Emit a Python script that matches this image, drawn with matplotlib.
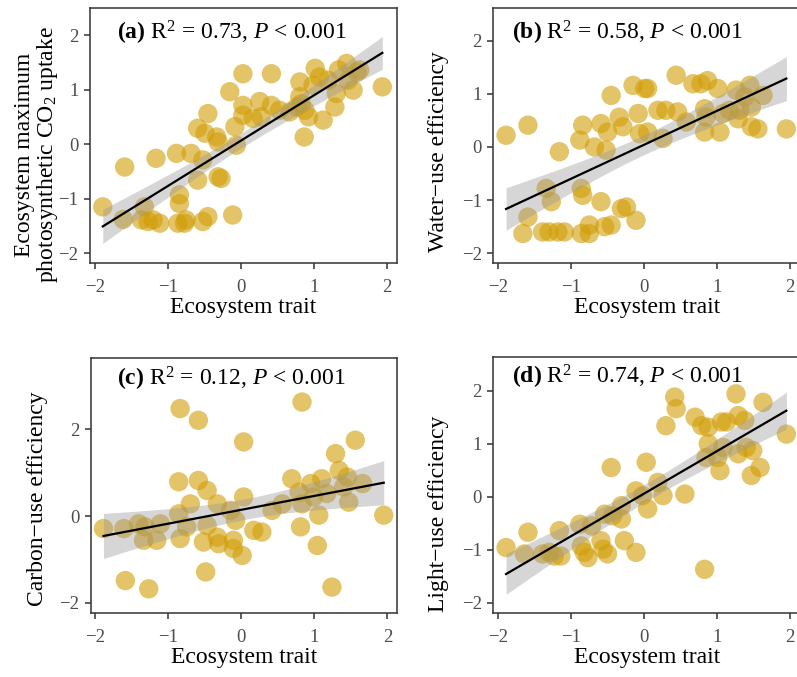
import numpy as np
import matplotlib
matplotlib.use('Agg')
import matplotlib.pyplot as plt

# values (standardised units)
a_x = [-1.89, -1.61, -1.59, -1.32, -1.36, -1.27, -1.16, -1.11, -1.20, -0.88, -0.84, -0.84, -0.86, -0.75, -0.77,
       -0.68, -0.52, -0.59, -0.52, -0.45, -0.59, -0.45, -0.49, -0.33, -0.31, -0.31, -0.27, -0.15, -0.08, -0.06,
       -0.11, 0.03, 0.03, 0.03, 0.17, 0.26, 0.28, 0.42, 0.42, 0.53, 0.67, 0.81, 0.81, 0.83, 0.88, 0.87, 1.02,
       0.99, 1.08, 1.13, 1.29, 1.20, 1.34, 1.31, 1.45, 1.54, 1.59, 1.63, 1.47, 1.94, 0.93, 0.77]
a_y = [-1.15, -1.38, -0.42, -1.15, -1.39, -1.42, -0.26, -1.45, -1.39, -0.17, -0.93, -1.09, -1.45, -1.39, -1.45,
       -0.17, -0.29, -0.66, -1.42, -1.33, 0.29, 0.56, 0.20, 0.13, 0.04, -0.60, -0.63, 0.96, 0.32, -0.02,
       -1.30, 1.29, 0.71, 0.53, 0.47, 0.78, 0.50, 1.29, 0.71, 0.62, 0.59, 1.14, 0.87, 0.74, 0.62, 0.13, 1.39,
       1.08, 1.23, 0.44, 0.68, 1.17, 1.36, 0.93, 1.48, 0.99, 1.32, 1.36, 1.17, 1.05, 0.50, 0.68]

b_x = [-1.89, -1.59, -1.16, -1.34, -1.27, -1.59, -1.66, -1.39, -1.30, -1.18, -1.09, -0.84, -0.88, -0.86, -0.84,
       -0.86, -0.75, -0.75, -0.68, -0.59, -0.52, -0.50, -0.59, -0.54, -0.45, -0.45, -0.34, -0.29, -0.31, -0.24,
       -0.11, -0.15, -0.08, -0.06, 0.01, 0.05, 0.05, 0.19, 0.26, 0.30, 0.44, 0.46, 0.58, 0.67, 0.78, 0.87, 0.83,
       0.85, 0.83, 1.01, 1.04, 1.08, 1.17, 1.26, 1.29, 1.31, 1.38, 1.45, 1.47, 1.47, 1.56, 1.63, 1.95]
b_y = [0.22, 0.41, -0.09, -0.78, -1.03, -1.32, -1.63, -1.60, -1.60, -1.60, -1.60, 0.41, 0.13, -0.78, -0.91,
       -1.63, -1.47, -1.63, 0.00, 0.44, -0.06, 0.28, -1.03, -1.50, -1.47, 0.97, 0.56, 0.38, -1.16, -1.13,
       -1.38, 1.16, 0.63, 0.25, 1.10, 1.10, 0.28, 0.69, 0.16, 0.69, 1.35, 0.66, 0.47, 1.19, 1.19, 1.25, 0.72,
       0.56, 0.28, 1.10, 0.28, 0.63, 0.69, 1.07, 0.53, 0.69, 0.94, 1.16, 0.75, 0.38, 0.34, 0.97, 0.34]

c_x = [-1.89, -1.61, -1.41, -1.32, -1.34, -1.16, -1.11, -1.59, -1.27, -0.84, -0.59, -0.86, -0.86, -0.84, -0.75,
       -0.70, -0.59, -0.47, -0.52, -0.47, -0.49, -0.33, -0.33, -0.31, -0.15, -0.08, -0.11, -0.11, 0.01, 0.03,
       0.03, 0.17, 0.28, 0.42, 0.56, 0.69, 0.79, 0.81, 0.83, 0.83, 0.95, 0.99, 1.06, 1.04, 1.10, 1.17, 1.24,
       1.29, 1.34, 1.45, 1.47, 1.56, 1.66, 1.95, 1.40]
c_y = [-0.29, -0.29, -0.18, -0.25, -0.56, -0.56, -0.18, -1.49, -1.68, 2.48, 2.21, 0.79, 0.05, -0.52, -0.25,
       0.28, 0.82, 0.59, -0.60, -0.22, -1.29, 0.28, -0.49, -0.64, 0.13, -0.10, -0.56, -0.75, -0.91, 1.71,
       0.44, -0.33, -0.37, 0.13, 0.28, 0.86, 0.55, -0.25, 0.28, 2.63, 0.75, 0.44, 0.02, -0.68, 0.86, 0.52, -1.64,
       1.44, 1.05, 0.90, 0.32, 1.75, 0.75, 0.02, 0.67]

d_x = [-1.89, -1.59, -1.64, -1.39, -1.30, -1.16, -1.14, -1.23, -0.88, -0.86, -0.82, -0.77, -0.72, -0.59, -0.54,
       -0.50, -0.45, -0.43, -0.31, -0.31, -0.27, -0.11, -0.11, -0.02, 0.03, 0.05, 0.19, 0.26, 0.30, 0.42, 0.44,
       0.56, 0.70, 0.79, 0.88, 0.88, 0.85, 0.83, 1.04, 1.01, 1.06, 1.08, 1.13, 1.26, 1.29, 1.29, 1.38, 1.40,
       1.49, 1.47, 1.59, 1.63, 1.95, -0.56]
d_y = [-0.96, -0.67, -1.08, -1.08, -1.05, -0.64, -1.12, -1.12, -0.52, -0.93, -1.05, -1.15, -0.55, -0.83, -0.33,
       -1.08, 0.55, -0.36, -0.42, -0.17, -0.83, -1.05, 0.11, 0.02, 0.65, -0.23, 0.27, 0.02, 1.34, 1.88, 1.66,
       0.05, 1.50, 1.34, 1.31, 1.00, 0.74, -1.37, 0.49, 0.74, 1.41, 0.93, 1.41, 1.94, 1.53, 0.81, 1.44, 0.93,
       0.87, 0.40, 0.55, 1.78, 1.18, -0.99]

panel_tags = ['(a)', '(b)', '(c)', '(d)']
r2_values = ['0.73', '0.58', '0.12', '0.74']
y_titles = ['Ecosystem maximum\nphotosynthetic CO$_2$ uptake', 'Water\u2212use efficiency',
            'Carbon\u2212use efficiency', 'Light\u2212use efficiency']
x_title = 'Ecosystem trait'

plt.rcParams['font.family'] = 'Liberation Serif'
plt.rcParams['mathtext.fontset'] = 'custom'
plt.rcParams['mathtext.rm'] = 'Liberation Serif'
plt.rcParams['mathtext.it'] = 'Liberation Serif:italic'
plt.rcParams['mathtext.bf'] = 'Liberation Serif:bold'

W, H = 797, 677
POINT = '#D19D06'
GREY = '#4D4D4D'


def fit_band(x, y, n_grid=100):
    """OLS line with a 95% confidence band, like geom_smooth(method='lm')"""
    x, y = np.asarray(x), np.asarray(y)
    b1, b0 = np.polyfit(x, y, 1)
    n = len(x)
    resid = y - (b0 + b1 * x)
    s = np.sqrt(np.sum(resid ** 2) / (n - 2))
    sxx = np.sum((x - x.mean()) ** 2)
    xs = np.linspace(x.min(), x.max(), n_grid)
    ys = b0 + b1 * xs
    se = s * np.sqrt(1.0 / n + (xs - x.mean()) ** 2 / sxx)
    return xs, ys, ys - 2.0 * se, ys + 2.0 * se


def px_axes(fig, left, top, right, bottom):
    return fig.add_axes([left / W, 1 - bottom / H, (right - left) / W, (bottom - top) / H])


fig = plt.figure(figsize=(W / 100, H / 100), dpi=100)
axes = [px_axes(fig, 90, 8.3, 396.7, 263),
        px_axes(fig, 493.3, 8.3, 800, 263.3),
        px_axes(fig, 90.7, 358.3, 397.4, 613.3),
        px_axes(fig, 493.3, 357.3, 800, 613.3)]

data = [(a_x, a_y), (b_x, b_y), (c_x, c_y), (d_x, d_y)]
ylims = [(-2.18, 2.49), (-2.19, 2.61), (-2.245, 3.64), (-2.2, 2.63)]
yticks = [[-2, -1, 0, 1, 2], [-2, -1, 0, 1, 2], [-2, 0, 2], [-2, -1, 0, 1, 2]]
tag_pos = [(0.087, 0.902), (0.06, 0.902), (0.087, 0.92), (0.06, 0.924)]
# anchor is the right-hand edge of the rotated title
ylab_pos = [(-0.098, 0.424), (-0.145, 0.44), (-0.139, 0.448), (-0.145, 0.39)]

for i, ax in enumerate(axes):
    x, y = data[i]
    ax.scatter(x, y, s=195, color=POINT, alpha=0.6, edgecolors='none', zorder=2)
    xs, ys, lo, hi = fit_band(x, y)
    ax.fill_between(xs, lo, hi, color='#999999', alpha=0.4, linewidth=0, zorder=3)
    ax.plot(xs, ys, color='black', linewidth=1.6, zorder=4)

    ax.set_xlim(-2.065, 2.137)
    ax.set_ylim(*ylims[i])
    ax.set_xticks([-2, -1, 0, 1, 2])
    ax.set_yticks(yticks[i])
    for sp in ax.spines.values():
        sp.set_color('#333333')
        sp.set_linewidth(1.1)
    ax.tick_params(length=4.3, width=1.1, color='#333333', labelcolor=GREY, labelsize=13.5)
    ax.tick_params(axis='x', pad=7)
    ax.tick_params(axis='y', pad=4)

    ax.set_xlabel(x_title, fontsize=17, labelpad=1)
    ax.set_ylabel(y_titles[i], fontsize=17, linespacing=1.0)
    ax.yaxis.set_label_coords(*ylab_pos[i])

    label = r'$\mathbf{%s}$ R$^2$ = %s, $\mathit{P}$ < 0.001' % (panel_tags[i], r2_values[i])
    ax.text(tag_pos[i][0], tag_pos[i][1], label, transform=ax.transAxes,
            ha='left', va='center', fontsize=17)

fig.savefig('out.png', dpi=100)
